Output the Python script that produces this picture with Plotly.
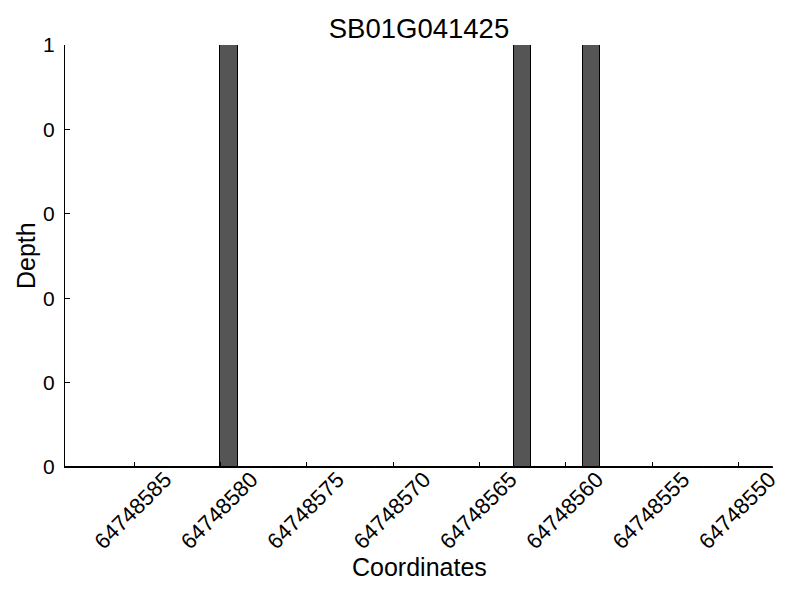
import plotly.graph_objects as go

coordinates = list(range(64748588, 64748547, -1))
depth_nonzero = {64748579: 1, 64748562: 1, 64748558: 1}
depths = [depth_nonzero.get(c, 0) for c in coordinates]

x_tick_vals = [64748585, 64748580, 64748575, 64748570, 64748565, 64748560, 64748555, 64748550]
x_tick_text = [str(v) for v in x_tick_vals]
y_tick_vals = [0, 0.2, 0.4, 0.6, 0.8, 1.0]
y_tick_text = ["0", "0", "0", "0", "0", "1"]

fig = go.Figure()
fig.add_trace(go.Bar(
    x=coordinates, y=depths, width=1, offset=0,
    marker=dict(color="#555555", line=dict(color="black", width=1)),
))

font = "Liberation Sans, Arial, sans-serif"
W, H = 792, 592
L, R, T, B = 57, 27, 37, 133
pw, ph = W - L - R, H - T - B

fig.update_layout(
    width=W, height=H,
    margin=dict(l=L, r=R, t=T, b=B, autoexpand=False),
    paper_bgcolor="white", plot_bgcolor="white",
    showlegend=False,
    font=dict(family=font, color="black", size=18),
    title=dict(text="SB01G041425", x=0.5, xref="paper", y=1 - 20 / H, yref="container",
               xanchor="center", yanchor="middle", font=dict(size=27.5, family=font)),
    bargap=0,
    annotations=[
        dict(text="Coordinates", xref="paper", yref="paper", x=0.5, y=-100 / ph,
             xanchor="center", yanchor="middle", showarrow=False, font=dict(size=25)),
        dict(text="Depth", xref="paper", yref="paper", x=-39 / pw, y=0.5, textangle=-90,
             xanchor="center", yanchor="middle", showarrow=False, font=dict(size=25)),
    ],
)
fig.update_xaxes(
    range=[64748589, 64748548], automargin=False,
    tickvals=x_tick_vals, ticktext=x_tick_text, tickangle=-45,
    ticks="inside", ticklen=5, tickcolor="black",
    ticklabelshift=-31, ticklabelstandoff=-10,
    showline=True, linecolor="black", linewidth=1, mirror=False,
    showgrid=False, zeroline=False,
    tickfont=dict(size=22),
)
fig.update_yaxes(
    range=[0, 1], automargin=False,
    tickvals=y_tick_vals, ticktext=y_tick_text,
    ticks="inside", ticklen=5, tickcolor="black",
    ticklabelstandoff=5,
    showline=True, linecolor="black", linewidth=1, mirror=False,
    showgrid=False, zeroline=False,
    tickfont=dict(size=21),
)
fig.write_html("out.html")
